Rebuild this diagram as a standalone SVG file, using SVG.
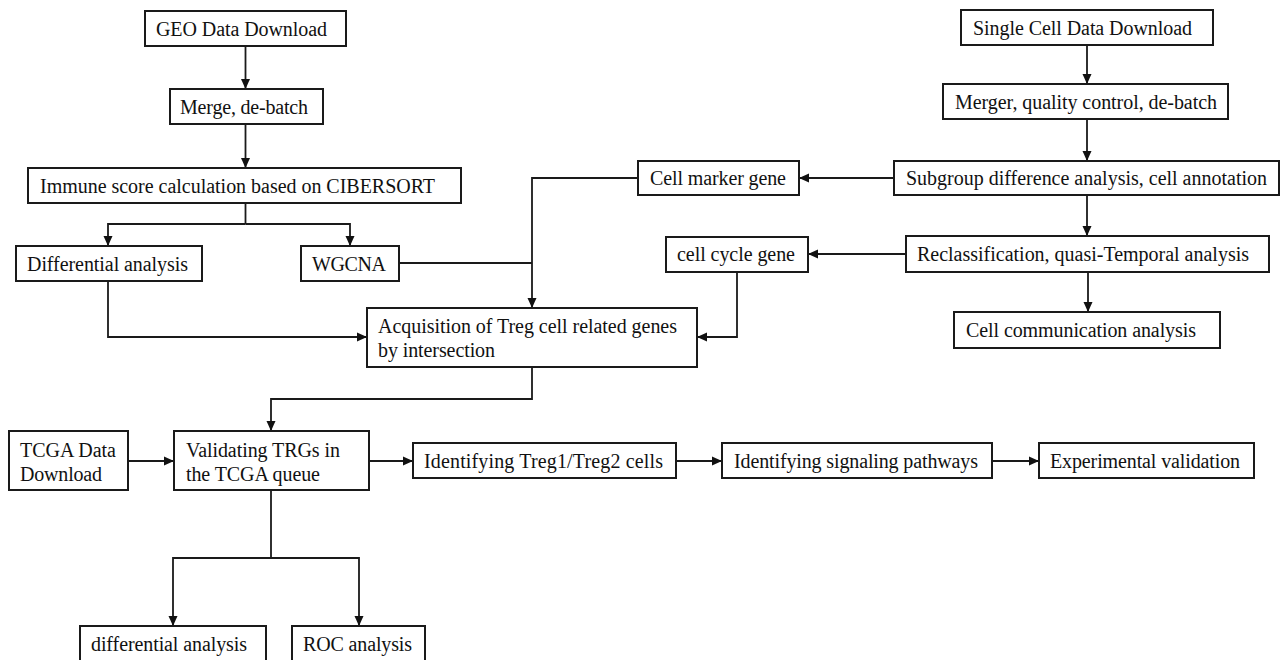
<svg xmlns="http://www.w3.org/2000/svg" width="1282" height="660" viewBox="0 0 1282 660">
<style>
.box{fill:#fff;stroke:#1a1a1a;stroke-width:2}
.t{font-family:"Liberation Serif","Times New Roman",serif;font-size:20px;fill:#111}
.c{fill:none;stroke:#1a1a1a;stroke-width:1.8}
</style>
<defs>
<marker id="ah" viewBox="0 0 10 10" refX="10" refY="5" markerWidth="10" markerHeight="10" markerUnits="userSpaceOnUse" orient="auto">
<path d="M0,0.5 L10,5 L0,9.5 z" fill="#111"/>
</marker>
</defs>
<rect width="1282" height="660" fill="#fff"/>
<g id="connectors">
<path class="c" d="M245.5,46 V89" marker-end="url(#ah)"/>
<path class="c" d="M245.5,124 V168" marker-end="url(#ah)"/>
<path class="c" d="M245.5,203 V224"/>
<path class="c" d="M245.5,224 H108 V246" marker-end="url(#ah)"/>
<path class="c" d="M245.5,224 H350 V246" marker-end="url(#ah)"/>
<path class="c" d="M108,281 V337 H367" marker-end="url(#ah)"/>
<path class="c" d="M399,263 H532"/>
<path class="c" d="M638,178 H532 V308" marker-end="url(#ah)"/>
<path class="c" d="M737,272 V337 H697" marker-end="url(#ah)"/>
<path class="c" d="M532,367 V399 H271 V431" marker-end="url(#ah)"/>
<path class="c" d="M128,461 H174" marker-end="url(#ah)"/>
<path class="c" d="M369,461 H413" marker-end="url(#ah)"/>
<path class="c" d="M676,461 H722" marker-end="url(#ah)"/>
<path class="c" d="M992,461 H1039" marker-end="url(#ah)"/>
<path class="c" d="M271,490 V558"/>
<path class="c" d="M271,558 H173 V626" marker-end="url(#ah)"/>
<path class="c" d="M271,558 H359 V626" marker-end="url(#ah)"/>
<path class="c" d="M1087,45 V84" marker-end="url(#ah)"/>
<path class="c" d="M1087,119 V161" marker-end="url(#ah)"/>
<path class="c" d="M894,178 H799" marker-end="url(#ah)"/>
<path class="c" d="M1087,195 V236" marker-end="url(#ah)"/>
<path class="c" d="M906,254 H808" marker-end="url(#ah)"/>
<path class="c" d="M1088,272 V312" marker-end="url(#ah)"/>
</g>
<g id="geo"><rect class="box" x="145" y="11" width="201" height="35"/><text class="t" x="156" y="36" textLength="171" lengthAdjust="spacing">GEO Data Download</text></g>
<g id="merge"><rect class="box" x="170" y="89" width="153" height="35"/><text class="t" x="180" y="114" textLength="128" lengthAdjust="spacing">Merge, de-batch</text></g>
<g id="immune"><rect class="box" x="28" y="168" width="433" height="35"/><text class="t" x="40" y="193" textLength="395" lengthAdjust="spacing">Immune score calculation based on CIBERSORT</text></g>
<g id="diff"><rect class="box" x="16" y="246" width="186" height="35"/><text class="t" x="27" y="271" textLength="161" lengthAdjust="spacing">Differential analysis</text></g>
<g id="wgcna"><rect class="box" x="301" y="246" width="98" height="35"/><text class="t" x="312" y="271" textLength="74" lengthAdjust="spacing">WGCNA</text></g>
<g id="acq"><rect class="box" x="367" y="308" width="330" height="59"/><text class="t" x="378" y="333" textLength="299" lengthAdjust="spacing">Acquisition of Treg cell related genes</text><text class="t" x="378" y="357" textLength="117" lengthAdjust="spacing">by intersection</text></g>
<g id="single"><rect class="box" x="961" y="10" width="252" height="35"/><text class="t" x="973" y="35" textLength="219" lengthAdjust="spacing">Single Cell Data Download</text></g>
<g id="merger"><rect class="box" x="943" y="84" width="285" height="35"/><text class="t" x="955" y="109" textLength="262" lengthAdjust="spacing">Merger, quality control, de-batch</text></g>
<g id="subgroup"><rect class="box" x="894" y="161" width="385" height="34"/><text class="t" x="906" y="185" textLength="361" lengthAdjust="spacing">Subgroup difference analysis, cell annotation</text></g>
<g id="marker"><rect class="box" x="638" y="161" width="161" height="34"/><text class="t" x="650" y="185" textLength="136" lengthAdjust="spacing">Cell marker gene</text></g>
<g id="reclass"><rect class="box" x="906" y="236" width="363" height="36"/><text class="t" x="917" y="261" textLength="332" lengthAdjust="spacing">Reclassification, quasi-Temporal analysis</text></g>
<g id="cycle"><rect class="box" x="666" y="237" width="142" height="35"/><text class="t" x="677" y="261" textLength="118" lengthAdjust="spacing">cell cycle gene</text></g>
<g id="comm"><rect class="box" x="954" y="312" width="266" height="36"/><text class="t" x="966" y="337" textLength="230" lengthAdjust="spacing">Cell communication analysis</text></g>
<g id="tcga"><rect class="box" x="9" y="431" width="119" height="59"/><text class="t" x="20" y="457" textLength="96" lengthAdjust="spacing">TCGA Data</text><text class="t" x="20" y="481" textLength="82" lengthAdjust="spacing">Download</text></g>
<g id="valid"><rect class="box" x="174" y="431" width="195" height="59"/><text class="t" x="186" y="457" textLength="154" lengthAdjust="spacing">Validating TRGs in</text><text class="t" x="186" y="481" textLength="134" lengthAdjust="spacing">the TCGA queue</text></g>
<g id="treg"><rect class="box" x="413" y="443" width="263" height="35"/><text class="t" x="424" y="468" textLength="239" lengthAdjust="spacing">Identifying Treg1/Treg2 cells</text></g>
<g id="signal"><rect class="box" x="722" y="443" width="270" height="35"/><text class="t" x="734" y="468" textLength="244" lengthAdjust="spacing">Identifying signaling pathways</text></g>
<g id="exp"><rect class="box" x="1039" y="443" width="215" height="35"/><text class="t" x="1050" y="468" textLength="190" lengthAdjust="spacing">Experimental validation</text></g>
<g id="diff2"><rect class="box" x="80" y="626" width="186" height="36"/><text class="t" x="91" y="651" textLength="156" lengthAdjust="spacing">differential analysis</text></g>
<g id="roc"><rect class="box" x="292" y="626" width="133" height="36"/><text class="t" x="303" y="651" textLength="109" lengthAdjust="spacing">ROC analysis</text></g>
</svg>
